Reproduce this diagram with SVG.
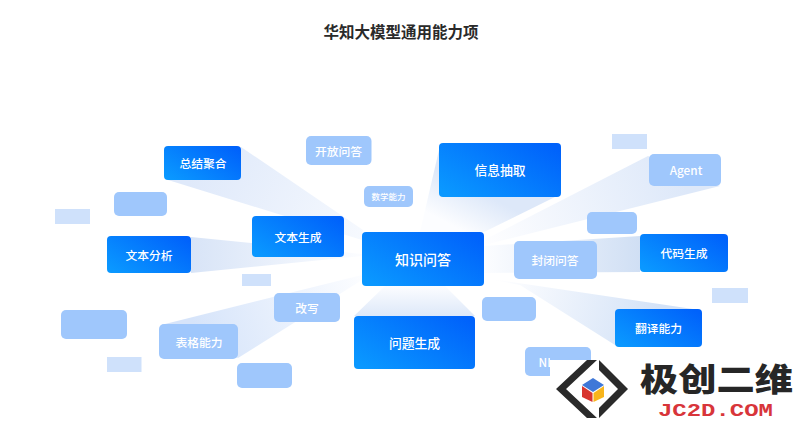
<svg xmlns="http://www.w3.org/2000/svg" width="800" height="422" viewBox="0 0 800 422">
<defs>
<clipPath id="nlpClip"><rect x="525" y="347" width="25" height="29"/></clipPath>
<linearGradient id="nodeG" x1="0" y1="0.85" x2="1" y2="0.15"><stop offset="0" stop-color="#0a98ff"/><stop offset="1" stop-color="#0062fb"/></linearGradient>
<linearGradient id="bNW" gradientUnits="userSpaceOnUse" x1="200" y1="160" x2="362" y2="240"><stop offset="0" stop-color="#dfe9fa"/><stop offset="1" stop-color="#f6f9fe"/></linearGradient>
<linearGradient id="bW" gradientUnits="userSpaceOnUse" x1="191" y1="255" x2="362" y2="255"><stop offset="0" stop-color="#d8e4f7"/><stop offset="1" stop-color="#fcfdff"/></linearGradient>
<linearGradient id="bSW" gradientUnits="userSpaceOnUse" x1="200" y1="340" x2="362" y2="278"><stop offset="0" stop-color="#d6e4fa"/><stop offset="1" stop-color="#fcfdff"/></linearGradient>
<linearGradient id="bS" gradientUnits="userSpaceOnUse" x1="415" y1="316" x2="415" y2="286"><stop offset="0" stop-color="#dde8f9"/><stop offset="1" stop-color="#fcfdff"/></linearGradient>
<linearGradient id="bN" gradientUnits="userSpaceOnUse" x1="490" y1="197" x2="470" y2="235"><stop offset="0" stop-color="#dde8f9"/><stop offset="1" stop-color="#fcfdff"/></linearGradient>
<linearGradient id="bNE" gradientUnits="userSpaceOnUse" x1="680" y1="170" x2="484" y2="240"><stop offset="0" stop-color="#dde8f9"/><stop offset="1" stop-color="#fefeff"/></linearGradient>
<linearGradient id="bE" gradientUnits="userSpaceOnUse" x1="640" y1="255" x2="484" y2="255"><stop offset="0" stop-color="#d0dff4"/><stop offset="1" stop-color="#fcfdff"/></linearGradient>
<linearGradient id="bSE" gradientUnits="userSpaceOnUse" x1="655" y1="328" x2="500" y2="280"><stop offset="0" stop-color="#d3e2f7"/><stop offset="1" stop-color="#fefeff"/></linearGradient>
</defs>
<style>
text{font-family:"Noto Sans CJK SC","Noto Sans",sans-serif;text-anchor:middle;dominant-baseline:central;fill:#fff;font-weight:500}
.main rect{fill:url(#nodeG)}
.sub rect{fill:#9fc7fc}
.pale rect{fill:#cfe1fb}
.title{fill:#2a2a2a;font-size:15.5px;font-weight:700}
.s12{font-size:11.800px}
.s13{font-size:12.800px}
</style>
<rect width="800" height="422" fill="#fff"/>
<text class="title" x="401" y="30.500">华知大模型通用能力项</text>
<g id="connectors">
<polygon fill="url(#bNW)" points="241,147 363,230 362,240 168,180"/>
<polygon fill="url(#bW)" points="191,237 362,254 362,256 191,273"/>
<polygon fill="url(#bSW)" points="165,324 362,275 362,280 238,358"/>
<polygon fill="url(#bS)" points="354,316 475,316 445,286 385,286"/>
<polygon fill="url(#bN)" points="439,150 420,232 484,232 555,197"/>
<polygon fill="url(#bNE)" points="648,156 484,240 484,245 720,186"/>
<polygon fill="url(#bE)" points="640,236 640,272 484,273 484,246"/>
<polygon fill="url(#bSE)" points="693,309 615,345 520,285 484,278"/>
</g>
<g id="pale-1" class="pale"><rect x="55" y="209" width="35" height="15"/></g>
<g id="pale-2" class="pale"><rect x="242" y="274" width="29" height="12"/></g>
<g id="pale-3" class="pale"><rect x="612" y="134" width="35" height="15"/></g>
<g id="pale-4" class="pale"><rect x="712" y="288" width="36" height="15"/></g>
<g id="pale-5" class="pale"><rect x="107" y="357" width="34.500" height="15"/></g>
<g id="blank-1" class="sub"><rect x="114" y="192" width="53" height="24" rx="5"/></g>
<g id="blank-2" class="sub"><rect x="587" y="212" width="50" height="22" rx="5"/></g>
<g id="blank-3" class="sub"><rect x="482" y="297" width="54" height="24" rx="5"/></g>
<g id="blank-4" class="sub"><rect x="61" y="310" width="66" height="29" rx="5"/></g>
<g id="blank-5" class="sub"><rect x="237" y="363" width="55" height="25" rx="5"/></g>
<g id="kaifang" class="sub"><rect x="306" y="136" width="65.500" height="29" rx="5"/><text class="s12" x="338.500" y="150">开放问答</text></g>
<g id="shuxue" class="sub"><rect x="364" y="186" width="49" height="21" rx="5"/><text x="388.500" y="196" font-size="8.500">数学能力</text></g>
<g id="agent" class="sub"><rect x="649" y="154" width="72" height="32" rx="5"/><text class="s12" x="686" y="169">Agent</text></g>
<g id="fengbi" class="sub"><rect x="514" y="241" width="83" height="38" rx="5"/><text class="s12" x="555" y="259.500">封闭问答</text></g>
<g id="gaixie" class="sub"><rect x="274" y="293" width="66" height="29" rx="5"/><text class="s12" x="307" y="307">改写</text></g>
<g id="biaoge" class="sub"><rect x="159" y="324" width="79" height="35" rx="5"/><text class="s12" x="199" y="341">表格能力</text></g>
<g id="nlp" class="sub"><rect x="525" y="347" width="66" height="29" rx="5"/><text class="s12" x="550" y="361" clip-path="url(#nlpClip)">NLP</text></g>
<g id="zongjie" class="main"><rect x="164" y="146" width="77" height="34" rx="4"/><text class="s12" x="203" y="162.500">总结聚合</text></g>
<g id="wenben-fenxi" class="main"><rect x="107" y="236" width="84" height="37" rx="4"/><text class="s12" x="149" y="254.500">文本分析</text></g>
<g id="wenben-shengcheng" class="main"><rect x="252" y="216" width="92" height="41" rx="4"/><text class="s12" x="298" y="236.500">文本生成</text></g>
<g id="zhishi" class="main"><rect x="362" y="232" width="122" height="54" rx="4"/><text x="423" y="258.500" font-size="14">知识问答</text></g>
<g id="xinxi" class="main"><rect x="439" y="143" width="122" height="54" rx="4"/><text class="s13" x="500" y="169.500">信息抽取</text></g>
<g id="daima" class="main"><rect x="640" y="234" width="88" height="38" rx="4"/><text class="s12" x="684" y="252.500">代码生成</text></g>
<g id="fanyi" class="main"><rect x="615" y="309" width="87" height="38" rx="4"/><text class="s12" x="658.500" y="327.500">翻译能力</text></g>
<g id="wenti" class="main"><rect x="354" y="316" width="121" height="53" rx="4"/><text class="s13" x="414.500" y="342">问题生成</text></g>
<g id="watermark">
<path fill="#fff" d="M550 360H800V422H550Z"/>
<polygon fill="#2a2a2a" points="587,360 597,360 566,389 597,418 587,418 556,389"/>
<polygon fill="#2a2a2a" points="599,360 628,389 599,418 599,408 618,389 599,370"/>
<polygon fill="#3f78d8" points="593,378 604,385 593,392 582,385"/>
<polygon fill="#d8352f" points="582,386 592.500,393 592.500,402 582,397"/>
<polygon fill="#f8b51c" points="593.500,393 604,386 604,397 593.500,402"/>
<text x="716.500" y="377" font-size="32" style="fill:#262626;font-weight:900" textLength="153" lengthAdjust="spacingAndGlyphs">极创二维</text>
<text x="715.500" y="411" font-size="19" style="fill:#d8353a;font-family:'Liberation Mono',monospace;font-weight:700" textLength="115" lengthAdjust="spacingAndGlyphs">JC2D.COM</text>
</g>
</svg>
